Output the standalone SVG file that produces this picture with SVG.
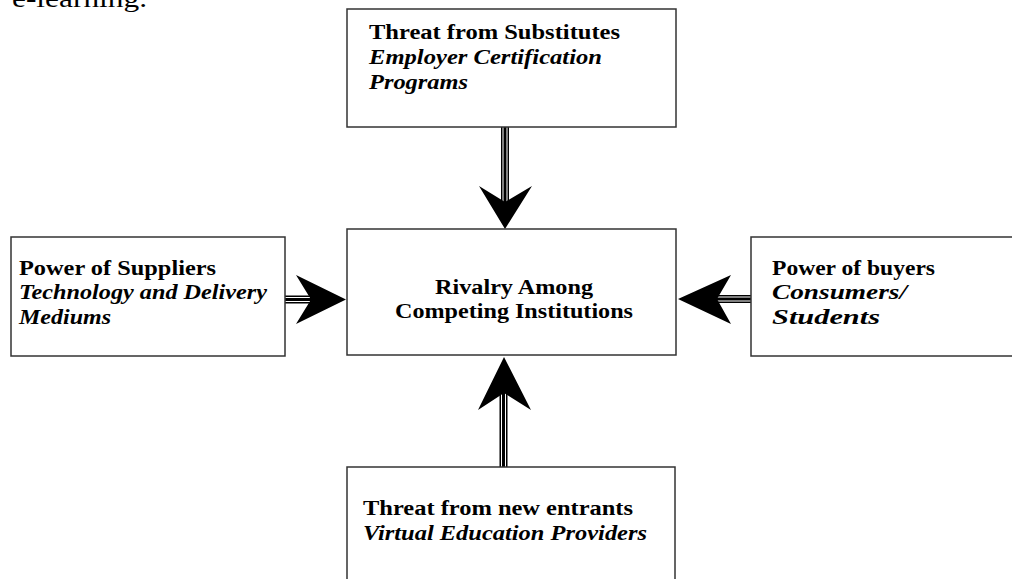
<svg xmlns="http://www.w3.org/2000/svg" width="1012" height="579" viewBox="0 0 1012 579">
<style>
.box{fill:#fff;stroke:#333;stroke-width:1.5}
.t{font-family:"Liberation Serif","Times New Roman",serif;font-size:20px;font-weight:bold;fill:#000}
.i{font-style:italic}
.shaft{fill:#000}
.gap{stroke:#fff;stroke-width:1}
.head{fill:#000}
</style>
<rect width="1012" height="579" fill="#fff"/>
<text x="12" y="7" font-family="Liberation Serif, serif" font-size="26" textLength="135" lengthAdjust="spacingAndGlyphs">e-learning.</text>
<g id="connectors">
  <g id="arrow-top">
    <rect class="shaft" x="501" y="127" width="8" height="80"/>
    <line class="gap" x1="503" y1="127" x2="503" y2="205"/>
    <line class="gap" x1="507" y1="127" x2="507" y2="205"/>
    <path class="head" d="M505,229 L479,186 L505,202 L532,186 Z"/>
  </g>
  <g id="arrow-bottom">
    <rect class="shaft" x="499.5" y="390" width="8" height="77"/>
    <line class="gap" x1="501.5" y1="393" x2="501.5" y2="467"/>
    <line class="gap" x1="505.5" y1="393" x2="505.5" y2="467"/>
    <path class="head" d="M504,357 L478,410 L504,393 L531,410 Z"/>
  </g>
  <g id="arrow-left">
    <rect class="shaft" x="285" y="295.5" width="29" height="8"/>
    <line class="gap" x1="285" y1="297.5" x2="312" y2="297.5"/>
    <line class="gap" x1="285" y1="301.5" x2="312" y2="301.5"/>
    <path class="head" d="M346,299.5 L296,275 L311,299.5 L296,324 Z"/>
  </g>
  <g id="arrow-right">
    <rect class="shaft" x="714" y="295" width="37" height="8"/>
    <line class="gap" x1="716" y1="297" x2="751" y2="297"/>
    <line class="gap" x1="716" y1="301" x2="751" y2="301"/>
    <path class="head" d="M678,299 L731,275 L717,299 L731,324 Z"/>
  </g>
</g>
<g id="node-substitutes">
  <rect class="box" x="347" y="9" width="329" height="118"/>
  <text class="t" x="369" y="39" textLength="251" lengthAdjust="spacingAndGlyphs">Threat from Substitutes</text>
  <text class="t i" x="369" y="64" textLength="233" lengthAdjust="spacingAndGlyphs">Employer Certification</text>
  <text class="t i" x="369" y="89" textLength="99" lengthAdjust="spacingAndGlyphs">Programs</text>
</g>
<g id="node-rivalry">
  <rect class="box" x="347" y="229" width="329" height="126"/>
  <text class="t" x="435" y="294" textLength="158" lengthAdjust="spacingAndGlyphs">Rivalry Among</text>
  <text class="t" x="395" y="318" textLength="238" lengthAdjust="spacingAndGlyphs">Competing Institutions</text>
</g>
<g id="node-suppliers">
  <rect class="box" x="11" y="237" width="274" height="119"/>
  <text class="t" x="19" y="275" textLength="197" lengthAdjust="spacingAndGlyphs">Power of Suppliers</text>
  <text class="t i" x="19" y="299" textLength="248" lengthAdjust="spacingAndGlyphs">Technology and Delivery</text>
  <text class="t i" x="19" y="324" textLength="92" lengthAdjust="spacingAndGlyphs">Mediums</text>
</g>
<g id="node-buyers">
  <rect class="box" x="751" y="237" width="270" height="119"/>
  <text class="t" x="772" y="275" textLength="163" lengthAdjust="spacingAndGlyphs">Power of buyers</text>
  <text class="t i" x="772" y="299" textLength="135" lengthAdjust="spacingAndGlyphs">Consumers/</text>
  <text class="t i" x="772" y="324" textLength="108" lengthAdjust="spacingAndGlyphs">Students</text>
</g>
<g id="node-entrants">
  <rect class="box" x="347" y="467" width="328" height="130"/>
  <text class="t" x="363" y="515" textLength="270" lengthAdjust="spacingAndGlyphs">Threat from new entrants</text>
  <text class="t i" x="363" y="540" textLength="284" lengthAdjust="spacingAndGlyphs">Virtual Education Providers</text>
</g>
</svg>
